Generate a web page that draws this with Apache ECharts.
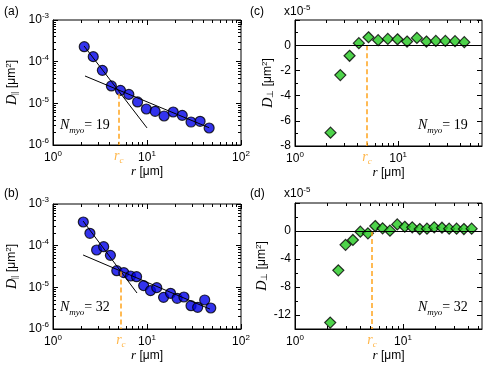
<!DOCTYPE html>
<html lang="en">
<head>
    <meta charset="UTF-8">
    <title>D parallel / perpendicular vs r</title>
    <script src="https://cdn.jsdelivr.net/npm/echarts@6/dist/echarts.min.js"></script>
</head>
<body style="margin:0">
    <div id="main" style="width: 486px; height: 366px;"></div>
    <script type="text/javascript">
        // data
        var rA = [2.15, 2.68, 3.35, 4.18, 5.22, 6.41, 7.94, 9.84, 12.2, 15.2, 19.0, 23.7, 29.4, 36.7, 45.8];
        var dA = [2.29e-4, 1.32e-4, 6.19e-5, 2.61e-5, 2.05e-5, 1.64e-5, 1.08e-5, 7.31e-6, 6.43e-6, 4.97e-6, 6.19e-6, 5.15e-6, 3.56e-6, 3.70e-6, 2.56e-6];
        var fitA1 = [[2.14, 2.38e-4], [10, 2.57e-6]];
        var fitA2 = [[2.19, 4.53e-5], [45.8, 2.6e-6]];
        var rcA = [5.0, 1.7e-5];

        var rC = [2.21, 2.75, 3.38, 4.16, 5.16, 6.40, 7.94, 9.86, 12.2, 15.2, 18.8, 23.2, 28.7, 35.6, 43.8];
        var dC = [-6.94, -2.37, -0.84, 0.16, 0.63, 0.40, 0.50, 0.47, 0.29, 0.58, 0.29, 0.34, 0.34, 0.32, 0.24];
        var rcC = [4.98, 0];

        var rB = [2.10, 2.47, 2.91, 3.46, 4.08, 4.77, 5.67, 6.68, 7.75, 9.21, 10.9, 12.7, 15.0, 17.8, 20.9, 24.7, 29.4, 34.6, 41.1, 47.7];
        var dB = [3.70e-4, 1.98e-4, 7.87e-5, 9.46e-5, 5.86e-5, 2.51e-5, 2.25e-5, 1.87e-5, 1.80e-5, 1.10e-5, 8.32e-6, 9.82e-6, 5.75e-6, 7.18e-6, 5.45e-6, 5.86e-6, 3.63e-6, 3.31e-6, 4.97e-6, 3.19e-6];
        var fitB1 = [[2.09, 3.9e-4], [7.83, 7.3e-6]];
        var fitB2 = [[2.09, 5.97e-5], [46.8, 3.0e-6]];
        var rcB = [5.27, 2.4e-5];

        var rD = [2.12, 2.52, 2.94, 3.44, 4.03, 4.74, 5.54, 6.48, 7.58, 8.86, 10.4, 12.2, 14.3, 16.7, 19.5, 23.0, 26.8, 31.4, 36.7, 43.3];
        var dD = [-13.08, -5.62, -1.98, -1.28, -0.09, -0.33, 0.71, 0.38, 0.05, 0.94, 0.61, 0.52, 0.28, 0.33, 0.52, 0.47, 0.33, 0.33, 0.28, 0.33];
        var rcD = [5.16, 0];

        var xMaxC = 65, xMaxD = 54;
        var logXMajor = [1, 10, 100];
        var logYMajor = [1e-6, 1e-5, 1e-4, 1e-3];
        var linCLabels = [-8, -6, -4, -2, 0];
        var linDLabels = [-12, -8, -4, 0];

        var sans = 'Liberation Sans';
        var serif = 'Liberation Serif';

        function logMinors(lo, hi) {
            var out = [];
            for (var d = lo; d < hi; d *= 10) {
                for (var k = 2; k <= 9; k++) out.push(+(k * d).toPrecision(3));
            }
            return out;
        }
        function zip(xs, ys) {
            return xs.map(function (x, i) { return [x, ys[i]]; });
        }

        var labRich = {
            b: { fontSize: 12, fontFamily: sans, color: '#000', lineHeight: 16 },
            s: { fontSize: 8, fontFamily: sans, color: '#000', verticalAlign: 'top', lineHeight: 16 }
        };
        function powFmt(v) {
            var e = Math.round(Math.log10(v));
            return '{b|10}{s|' + e + '}';
        }
        var nameRich = {
            d: { fontSize: 14, fontFamily: serif, fontStyle: 'italic', color: '#000' },
            sub: { fontSize: 9, fontFamily: serif, color: '#000', verticalAlign: 'bottom', lineHeight: 12 },
            u: { fontSize: 12, fontFamily: sans, color: '#000' },
            sup: { fontSize: 8, fontFamily: sans, color: '#000', verticalAlign: 'top', lineHeight: 14 },
            ri: { fontSize: 13, fontFamily: serif, fontStyle: 'italic', color: '#000' }
        };

        // 4 axes per side: main, minor, mirror main, mirror minor
        function axesSet(dim, gi, type, min, max, majors, minors, labelVals, fmt, name, gap) {
            var pos = dim === 'x' ? ['bottom', 'top'] : ['left', 'right'];
            var base = { gridIndex: gi, type: type, min: min, max: max, splitLine: { show: false }, axisPointer: { show: false } };
            if (type === 'log') base.logBase = 10;
            var list = [];
            [0, 1].forEach(function (side) {
                [5, 3].forEach(function (len, m) {
                    var a = Object.assign({}, base, {
                        position: pos[side],
                        axisLine: { show: side === 0 && m === 0, onZero: false, lineStyle: { color: '#000', width: 1 } },
                        axisTick: { show: true, inside: true, length: len, customValues: m === 0 ? majors : minors, lineStyle: { color: '#000' } },
                        axisLabel: { show: false }
                    });
                    if (side === 0 && m === 0) {
                        a.axisLabel = { show: true, customValues: labelVals, formatter: fmt, rich: labRich, color: '#000', fontSize: 12, fontFamily: sans, margin: dim === 'x' ? 5 : 4 };
                        a.name = name;
                        a.nameLocation = 'middle';
                        a.nameGap = gap;
                        a.nameTextStyle = { rich: nameRich };
                        if (dim === 'y') a.nameRotate = 90;
                    }
                    list.push(a);
                });
            });
            return list;
        }

        var xName = '{ri|r}{u| [μm]}';
        var yParName = '{d|D}{sub|||}{u| [μm}{sup|2}{u|]}';
        var yPerpName = '{d|D}{sub|⊥}{u| [μm}{sup|2}{u|]}';

        var grids = [
            { left: 53, top: 20, width: 188, height: 125 },
            { left: 295, top: 20, width: 187, height: 126 },
            { left: 53, top: 204, width: 188, height: 125 },
            { left: 295, top: 203, width: 187, height: 126 }
        ].map(function (g) { return Object.assign({ show: true, borderColor: '#000', borderWidth: 1, backgroundColor: 'transparent' }, g); });

        var xAxis = [].concat(
            axesSet('x', 0, 'log', 1, 100, logXMajor, logMinors(1, 100), logXMajor, powFmt, xName, 20),
            axesSet('x', 1, 'log', 1, xMaxC, [1, 10], logMinors(1, 100).filter(function (v) { return v < xMaxC; }), [1, 10], powFmt, xName, 20),
            axesSet('x', 2, 'log', 1, 100, logXMajor, logMinors(1, 100), logXMajor, powFmt, xName, 20),
            axesSet('x', 3, 'log', 1, xMaxD, [1, 10], logMinors(1, 100).filter(function (v) { return v < xMaxD; }), [1, 10], powFmt, xName, 20)
        );
        var yAxis = [].concat(
            axesSet('y', 0, 'log', 1e-6, 1e-3, logYMajor, logMinors(1e-6, 1e-3), logYMajor, powFmt, yParName, 34),
            axesSet('y', 1, 'value', -8, 2, [-8, -6, -4, -2, 0, 2], [-7, -5, -3, -1, 1], linCLabels, null, yPerpName, 20),
            axesSet('y', 2, 'log', 1e-6, 1e-3, logYMajor, logMinors(1e-6, 1e-3), logYMajor, powFmt, yParName, 34),
            axesSet('y', 3, 'value', -14, 4, [-12, -8, -4, 0, 4], [-10, -6, -2, 2], linDLabels, null, yPerpName, 26)
        );

        var blue = '#0000e8', green = '#22c81e', orange = '#ffa41c';

        function circles(gi, xs, ys) {
            return { type: 'scatter', xAxisIndex: gi * 4, yAxisIndex: gi * 4, data: zip(xs, ys), symbol: 'circle', symbolSize: 10, itemStyle: { color: blue, borderColor: '#000', borderWidth: 1.2 }, z: 3 };
        }
        function diamonds(gi, xs, ys) {
            return {
                type: 'scatter', xAxisIndex: gi * 4, yAxisIndex: gi * 4, data: zip(xs, ys), symbol: 'diamond', symbolSize: [11, 11],
                itemStyle: { color: green, borderColor: '#000', borderWidth: 1.2 }, z: 4,
                markLine: { silent: true, symbol: 'none', label: { show: false }, lineStyle: { color: '#000', type: 'solid', width: 1 }, data: [{ yAxis: 0 }] }
            };
        }
        function fit(gi, pts) {
            return { type: 'line', xAxisIndex: gi * 4, yAxisIndex: gi * 4, data: pts, showSymbol: false, symbol: 'none', lineStyle: { color: '#000', width: 1 }, z: 4, silent: true };
        }
        // dashed r_c marker, drawn as a markLine on an invisible anchor point that also carries the label
        function rcLine(gi, rc, ymin) {
            return {
                type: 'scatter', xAxisIndex: gi * 4, yAxisIndex: gi * 4, data: [[rc[0], ymin]], symbolSize: 2,
                itemStyle: { color: 'rgba(0,0,0,0)' }, clip: false, silent: true, z: 2,
                label: {
                    show: true, position: 'bottom', distance: 1, formatter: '{rr|r}{cc|c}',
                    color: orange, fontSize: 14, fontFamily: serif, fontStyle: 'italic',
                    rich: {
                        rr: { fontSize: 14, fontFamily: serif, fontStyle: 'italic', color: orange, lineHeight: 16 },
                        cc: { fontSize: 9, fontFamily: serif, color: orange, verticalAlign: 'bottom', lineHeight: 18 }
                    }
                },
                markLine: {
                    silent: true, symbol: 'none', label: { show: false }, animation: false,
                    lineStyle: { color: orange, width: 1.5, type: [5, 3] },
                    data: [[{ coord: [rc[0], rc[1]] }, { coord: [rc[0], ymin] }]]
                }
            };
        }

        var series = [].concat(
            rcLine(0, rcA, 1e-6), circles(0, rA, dA), fit(0, fitA1), fit(0, fitA2),
            rcLine(1, rcC, -8), diamonds(1, rC, dC),
            rcLine(2, rcB, 1e-6), circles(2, rB, dB), fit(2, fitB1), fit(2, fitB2),
            rcLine(3, rcD, -14), diamonds(3, rD, dD)
        );

        var panelFont = { fontSize: 12, fontFamily: sans, fill: '#000' };
        function txt(x, y, s) {
            return { type: 'text', left: x, top: y, style: Object.assign({ text: s }, panelFont) };
        }
        function nmyo(x, y, n) {
            return {
                type: 'text', left: x, top: y,
                style: {
                    text: '{n|N}{m|myo}{e|= ' + n + '}',
                    rich: {
                        n: { fontSize: 14, fontFamily: serif, fontStyle: 'italic', fill: '#000' },
                        m: { fontSize: 9, fontFamily: serif, fontStyle: 'italic', fill: '#000', verticalAlign: 'bottom', lineHeight: 20 },
                        e: { fontSize: 14, fontFamily: serif, fill: '#000' }
                    }
                }
            };
        }
        function x10(x, y) {
            return {
                type: 'text', left: x, top: y,
                style: {
                    text: '{b|x10}{s|-5}',
                    rich: {
                        b: { fontSize: 12, fontFamily: sans, fill: '#000', lineHeight: 16 },
                        s: { fontSize: 8, fontFamily: sans, fill: '#000', verticalAlign: 'top', lineHeight: 16 }
                    }
                }
            };
        }

        var myChart = echarts.init(document.getElementById('main'));
        option = {
            animation: false,
            backgroundColor: '#fff',
            grid: grids,
            xAxis: xAxis,
            yAxis: yAxis,
            series: series,
            graphic: [
                txt(4, 6, '(a)'), txt(250, 6, '(c)'), txt(4, 188, '(b)'), txt(250, 188, '(d)'),
                x10(284, 4), x10(284, 186),
                nmyo(60, 118, 19), nmyo(418, 118, 19), nmyo(60, 300, 32), nmyo(418, 300, 32)
            ]
        };
        myChart.setOption(option);
    </script>
</body>
</html>
